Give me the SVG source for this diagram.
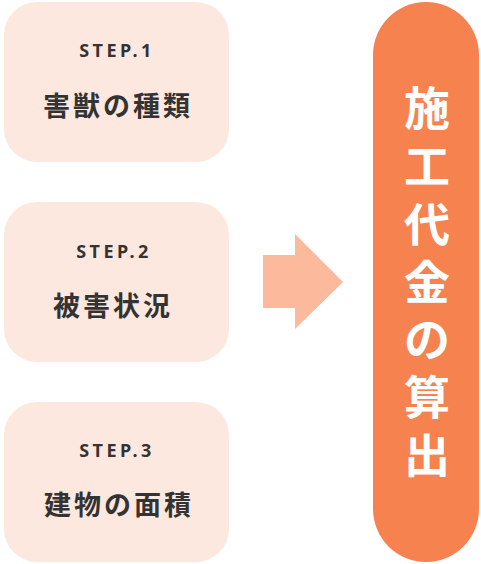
<svg xmlns="http://www.w3.org/2000/svg" width="481" height="564" viewBox="0 0 481 564">
  <style>
    .box { fill: #fde8e0; }
    .step { font-family: "Noto Sans", "Noto Sans CJK JP", sans-serif; font-weight: 700; font-size: 18px; letter-spacing: 3.5px; fill: #333333; text-anchor: middle; }
    .label { font-family: "Noto Sans CJK JP", sans-serif; font-weight: 700; font-size: 27px; letter-spacing: 3px; fill: #333333; text-anchor: middle; }
    .pill { fill: #f6824f; }
    .vt { font-family: "Noto Sans CJK JP", sans-serif; font-weight: 700; font-size: 46px; fill: #ffffff; text-anchor: middle; }
    .arrow { fill: #fdb99c; }
  </style>
  <g id="step1">
    <rect class="box" x="4" y="2" width="225" height="160" rx="33" ry="33"/>
    <text class="step" x="117" y="57">STEP.1</text>
    <text class="label" x="118" y="116">害獣の種類</text>
  </g>
  <g id="step2">
    <rect class="box" x="4" y="202" width="225" height="160" rx="33" ry="33"/>
    <text class="step" x="114" y="258">STEP.2</text>
    <text class="label" x="113" y="316">被害状況</text>
  </g>
  <g id="step3">
    <rect class="box" x="4" y="402" width="225" height="160" rx="33" ry="33"/>
    <text class="step" x="117" y="457">STEP.3</text>
    <text class="label" x="119" y="515">建物の面積</text>
  </g>
  <g id="connectors">
    <polygon class="arrow" points="263,255 295,255 295,234 343,282 295,329 295,308 263,308"/>
  </g>
  <g id="result">
    <rect class="pill" x="373" y="2" width="106" height="560" rx="53" ry="53"/>
    <text class="vt" x="427" y="125">施</text>
    <text class="vt" x="427" y="183">工</text>
    <text class="vt" x="427" y="241">代</text>
    <text class="vt" x="427" y="299">金</text>
    <text class="vt" x="427" y="356">の</text>
    <text class="vt" x="427" y="414">算</text>
    <text class="vt" x="427" y="472">出</text>
  </g>
</svg>
